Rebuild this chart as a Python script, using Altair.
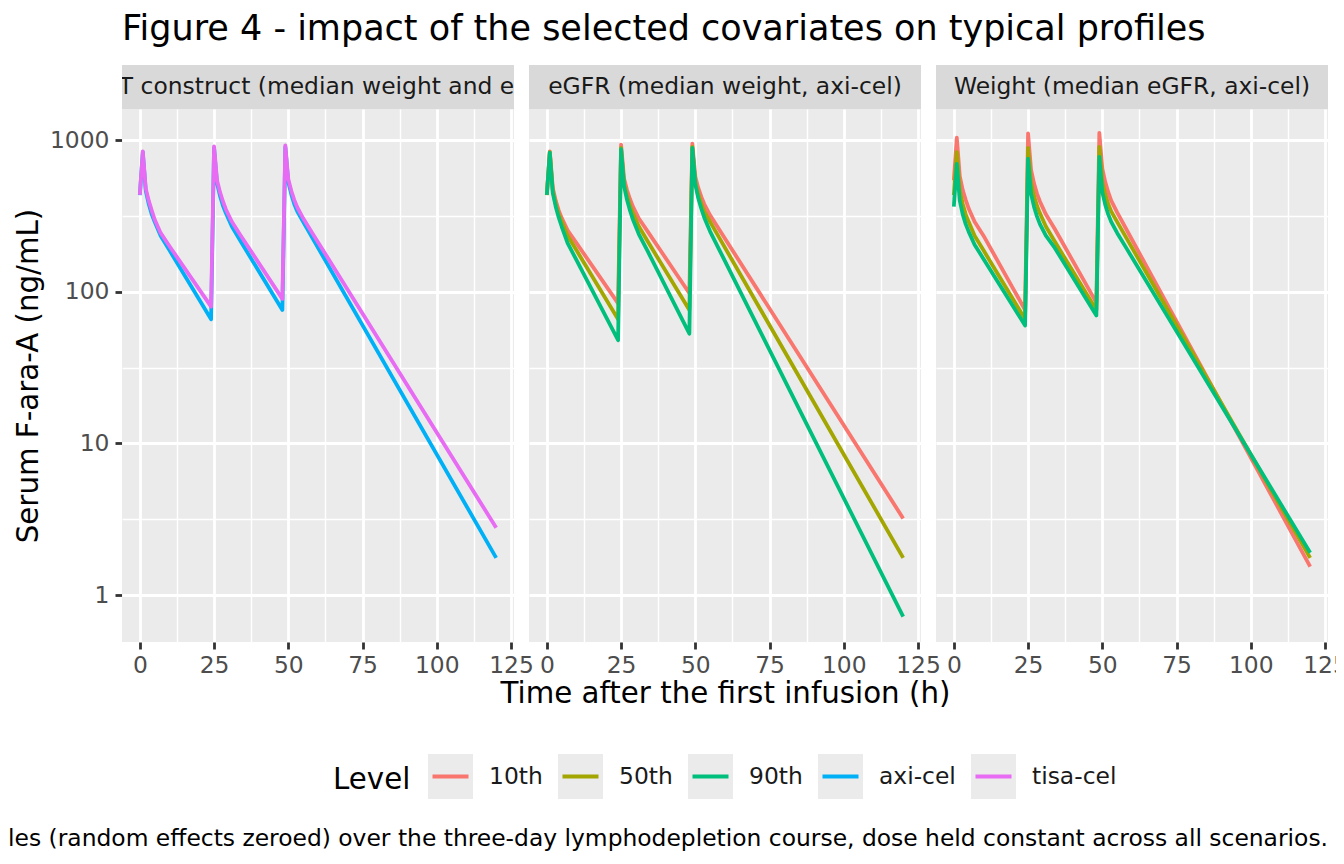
import altair as alt
import pandas as pd

FONT = "DejaVu Sans"

# ---- data (hours, ng/mL) ----
TIME_H = [0, 1, 2, 3, 4, 5, 7, 10, 24, 25, 26, 27, 28, 29, 31, 34,
          48, 49, 50, 51, 52, 53, 55, 58, 120]

AXI_CEL = [435, 835, 465, 380, 325, 290, 235, 188, 66, 890, 520, 430, 370, 330, 270, 215,
           76, 905, 530, 440, 380, 340, 290, 229, 1.76]
TISA_CEL = [437, 846, 480, 400, 345, 300, 245, 200, 80, 913, 545, 455, 395, 350, 290, 235,
            90, 926, 555, 465, 405, 362, 306, 246, 2.78]
EGFR_10TH = [437, 845, 485, 400, 345, 308, 255, 210, 84, 936, 560, 470, 410, 365, 305, 250,
             98, 950, 575, 485, 425, 380, 320, 259, 3.2]
EGFR_90TH = [437, 830, 450, 365, 310, 270, 210, 162, 48, 876, 500, 405, 345, 300, 240, 185,
             53, 890, 510, 415, 355, 310, 250, 191, 0.72]
WEIGHT_10TH = [545, 1040, 580, 470, 405, 355, 290, 235, 76, 1110, 640, 520, 445, 395, 325, 260,
               85, 1120, 650, 530, 455, 400, 335, 261, 1.54]
WEIGHT_90TH = [365, 700, 400, 325, 280, 250, 205, 165, 60, 758, 445, 365, 315, 280, 235, 195,
               70, 777, 455, 375, 325, 290, 245, 196, 1.90]
MEDIAN = AXI_CEL  # median covariates, axi-cel reference profile

LEVELS = ["10th", "50th", "90th", "axi-cel", "tisa-cel"]
LEVEL_COLORS = ["#F8766D", "#A3A500", "#00BF7D", "#00B0F6", "#E76BF3"]
STRIPS = ["CAR-T construct (median weight and eGFR)",
          "eGFR (median weight, axi-cel)",
          "Weight (median eGFR, axi-cel)"]
PANEL_SERIES = [
    [("axi-cel", AXI_CEL), ("tisa-cel", TISA_CEL)],
    [("10th", EGFR_10TH), ("50th", MEDIAN), ("90th", EGFR_90TH)],
    [("10th", WEIGHT_10TH), ("50th", MEDIAN), ("90th", WEIGHT_90TH)],
]
X_MAJOR = [0, 25, 50, 75, 100, 125]
X_MINOR = [12.5, 37.5, 62.5, 87.5, 112.5]
Y_MAJOR = [1, 10, 100, 1000]
Y_MINOR = [3.1623, 31.623, 316.23]
TITLE = "Figure 4 - impact of the selected covariates on typical profiles"
X_TITLE = "Time after the first infusion (h)"
Y_TITLE = "Serum F-ara-A (ng/mL)"
CAPTION = ("Model-predicted typical F-ara-A profiles (random effects zeroed) over the three-day "
           "lymphodepletion course, dose held constant across all scenarios.")

rows = []
for p, series in enumerate(PANEL_SERIES):
    for lvl, vals in series:
        for t, v in zip(TIME_H, vals):
            rows.append({"panel": p, "level": lvl, "time": t, "conc": v})
df = pd.DataFrame(rows)

PW, PH, SH = 392, 533, 44     # panel width / height, strip height
GAP = 15                      # gap between panels
AW = 99                       # width of the left axis column

XS = alt.Scale(domain=[-6, 126], nice=False, zero=False)
YS = alt.Scale(type="log", domain=[0.49, 1610], nice=False)

# legend key: grey box with a short coloured line (dash shows only the middle stroke)
KEY_PATH = "M-0.8,0H1V-1H-1V1H1V0Z"
color_legend = alt.Legend(
    orient="none", legendX=325, legendY=687, direction="horizontal", columns=5,
    title="Level", titleOrient="left", titleFont=FONT, titleFontSize=29.3,
    titleFontWeight="normal", titleColor="black", titlePadding=15,
    titleAnchor="middle", titleBaseline="middle",
    labelFont=FONT, labelFontSize=23.4, labelColor="#1A1A1A", labelOffset=14,
    columnPadding=7, symbolType=KEY_PATH, symbolSize=2025, symbolStrokeWidth=4,
    symbolFillColor="#EBEBEB", symbolDash=[36, 400], padding=0)

tick_style = dict(tickColor="#333333", tickSize=7, tickWidth=2.8, labelFont=FONT,
                  labelFontSize=23.4, labelColor="#4D4D4D")
grid_style = dict(grid=True, gridColor="white", gridWidth=2.8, domain=False)


def x_axis(i):
    kw = dict(values=X_MAJOR, format="d", labelPadding=5, labelFlush=False,
              labelOverlap=False, **tick_style, **grid_style)
    if i == 1:
        kw.update(title=X_TITLE, titleFont=FONT, titleFontSize=29.3, titleFontWeight="normal",
                  titleColor="black", titlePadding=3)
    else:
        kw.update(title=None)
    return alt.Axis(**kw)


def make_panel(i):
    base = alt.Chart(df[df.panel == i])
    minor = base.mark_line(opacity=0).encode(
        x=alt.X("time:Q", scale=XS, axis=alt.Axis(orient="top", values=X_MINOR, grid=True,
                gridColor="white", gridWidth=1.4, labels=False, ticks=False, domain=False,
                title=None)),
        y=alt.Y("conc:Q", scale=YS, axis=alt.Axis(orient="right", values=Y_MINOR, grid=True,
                gridColor="white", gridWidth=1.4, labels=False, ticks=False, domain=False,
                title=None)),
    )
    lines = base.mark_line(strokeWidth=3.8, strokeJoin="round").encode(
        x=alt.X("time:Q", scale=XS, axis=x_axis(i)),
        y=alt.Y("conc:Q", scale=YS, axis=alt.Axis(values=Y_MAJOR, labels=False, ticks=False,
                                                  title=None, **grid_style)),
        color=alt.Color("level:N", scale=alt.Scale(domain=LEVELS, range=LEVEL_COLORS),
                        legend=color_legend),
    )
    return alt.layer(minor, lines).resolve_axis(x="independent", y="independent").properties(
        width=PW, height=PH, view=alt.ViewBackground(fill="#EBEBEB", stroke=None))


def make_strip(i):
    return alt.Chart(pd.DataFrame({"strip": [STRIPS[i]]})).mark_text(
        clip=True, font=FONT, fontSize=23.4, color="#1A1A1A", align="center",
        baseline="middle").encode(
        x=alt.value(PW / 2), y=alt.value(SH / 2), text="strip:N"
    ).properties(width=PW, height=SH, view=alt.ViewBackground(fill="#D9D9D9", stroke=None))


blank = alt.Chart(pd.DataFrame({"t": [""]})).mark_text().encode(text="t:N").properties(
    width=AW, height=SH, view=alt.ViewBackground(stroke=None))

# y axis drawn in its own column, placed on the left edge of the first panel
axis_col = alt.Chart(df).transform_filter("datum.time < -1000").mark_point(opacity=0).encode(
    y=alt.Y("conc:Q", scale=YS, axis=alt.Axis(
        values=Y_MAJOR, format="d", offset=-(AW + GAP), labelPadding=6, grid=False,
        domain=False, title=Y_TITLE, titleFont=FONT, titleFontSize=29.3,
        titleFontWeight="normal", titleColor="black", titlePadding=6, **tick_style))
).properties(width=AW, height=PH, view=alt.ViewBackground(stroke=None))

grid = alt.ConcatChart(
    concat=[blank, make_strip(0), make_strip(1), make_strip(2),
            axis_col, make_panel(0), make_panel(1), make_panel(2)],
    columns=4, spacing={"row": 0, "column": GAP}, bounds="flush")

CW, CH = 1320, 30
caption = alt.Chart(pd.DataFrame({"caption": [CAPTION]})).mark_text(
    clip=True, align="right", baseline="alphabetic", font=FONT, fontSize=23.4,
    color="black").encode(
    x=alt.value(CW), y=alt.value(24), text="caption:N"
).properties(width=CW, height=CH, view=alt.ViewBackground(stroke=None))

chart = alt.vconcat(grid, caption, spacing=113).properties(
    title=alt.TitleParams(TITLE, anchor="start", font=FONT, fontSize=35, fontWeight="normal",
                          color="black", dx=114, offset=18),
    padding={"left": 0, "top": 4, "right": -12, "bottom": 5},
    background="white",
).configure_view(stroke=None)

chart.save("out.html", embed_options={"renderer": "svg", "actions": False})
